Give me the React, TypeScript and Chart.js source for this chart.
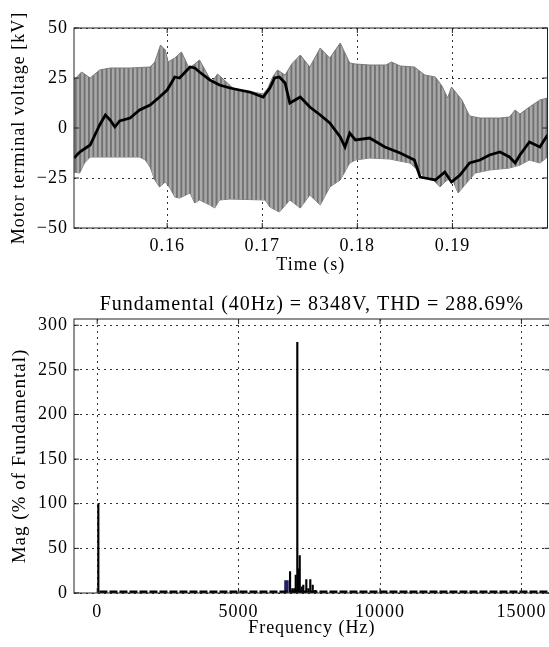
import React, { useEffect, useRef } from 'react';
import { Chart, registerables } from 'chart.js';

Chart.register(...registerables);

// ---------- Top plot: motor terminal voltage ----------
const timeTicks = [0.16, 0.17, 0.18, 0.19];
const voltTicks = [-50, -25, 0, 25, 50];

const upperT = [0.1502, 0.151, 0.1519, 0.1529, 0.154, 0.1561, 0.1582, 0.1587, 0.1593, 0.1598, 0.1601, 0.1608, 0.1615, 0.1623, 0.1629, 0.1634, 0.1641, 0.1647, 0.1653, 0.166, 0.1669, 0.1682, 0.169, 0.1701, 0.1706, 0.1711, 0.1716, 0.1724, 0.1731, 0.174, 0.175, 0.1761, 0.1771, 0.1782, 0.1792, 0.1798, 0.1813, 0.183, 0.1836, 0.1845, 0.186, 0.1871, 0.1882, 0.1889, 0.1895, 0.1899, 0.191, 0.1918, 0.1929, 0.195, 0.196, 0.1966, 0.1971, 0.1981, 0.1992, 0.2];
const upperKV = [24, 28, 25, 29, 30, 30, 30.5, 33, 41.5, 39, 33, 35, 38, 30, 32, 34, 28, 23, 27, 24, 20, 18.5, 18, 17, 20, 25.5, 29, 26.5, 32, 36.5, 30.5, 40, 35, 42.5, 32.5, 32, 31.5, 31.5, 33, 31, 30.5, 26.5, 25.5, 21, 15, 20.5, 14, 6, 5, 5, 5.5, 9, 7, 10.5, 14, 15];

const lowerT = [0.1502, 0.1508, 0.1513, 0.1519, 0.1529, 0.1571, 0.1577, 0.1582, 0.1587, 0.1592, 0.1598, 0.1603, 0.1608, 0.1613, 0.1624, 0.1629, 0.1634, 0.1645, 0.165, 0.1655, 0.1666, 0.1703, 0.1708, 0.1718, 0.1729, 0.174, 0.175, 0.1761, 0.1771, 0.1782, 0.1792, 0.1798, 0.1813, 0.1834, 0.1855, 0.1866, 0.1871, 0.1876, 0.1882, 0.1887, 0.1892, 0.1899, 0.1906, 0.1913, 0.1924, 0.1939, 0.196, 0.1971, 0.1981, 0.1992, 0.2];
const lowerKV = [-22, -22.5, -17.5, -14.5, -14.5, -14.5, -16, -19.5, -26, -29.5, -27, -30, -34.5, -35, -32.5, -37.5, -36, -38.5, -40, -36, -35.5, -36, -39.5, -42, -36, -40, -33.5, -38.5, -29.5, -26, -17.5, -16, -15, -15.5, -17.5, -22, -25, -24.5, -27, -29.5, -27, -24.5, -32.5, -28.5, -22.5, -21, -20, -18.5, -16, -17.5, -14.5];

const midT = [0.1502, 0.1508, 0.1519, 0.1524, 0.1529, 0.1535, 0.154, 0.1545, 0.155, 0.1561, 0.1571, 0.1582, 0.1592, 0.16, 0.1608, 0.1613, 0.1624, 0.1629, 0.1634, 0.1645, 0.1655, 0.1666, 0.1676, 0.1687, 0.1695, 0.1701, 0.1708, 0.1713, 0.1718, 0.1724, 0.1729, 0.174, 0.175, 0.1761, 0.1771, 0.1782, 0.1787, 0.1792, 0.1798, 0.1813, 0.1829, 0.1845, 0.186, 0.1866, 0.1871, 0.1882, 0.1892, 0.1899, 0.1908, 0.1918, 0.1929, 0.1939, 0.195, 0.196, 0.1966, 0.1971, 0.1981, 0.1992, 0.2];
const midKV = [-15, -12, -8.5, -3.5, 1.5, 6.5, 4, 0.5, 3.5, 5, 9, 11.5, 15.5, 19, 25.5, 25, 30.5, 30, 28, 24, 21.5, 20, 19, 18, 16.5, 15.5, 20, 25, 25.5, 22.5, 12.5, 15.5, 10.5, 6.5, 2.5, -4.5, -9.5, -2.5, -6, -5, -9.5, -12.5, -16, -24.5, -25, -26, -22, -27, -23.5, -17.5, -16, -13.5, -12, -14.5, -17.5, -13.5, -7, -9.5, -3.5];

// ---------- Bottom plot: FFT spectrum ----------
const freqTicks = [0, 5000, 10000, 15000];
const magTicks = [0, 50, 100, 150, 200, 250, 300];
const fundamentalHz = [40];
const fundamentalMag = [100];
const harmonicHz = [6820, 6900, 6970, 7020, 7076, 7136, 7161, 7231, 7288, 7394, 7465, 7535, 7620, 7712];
const harmonicMag = [24, 5, 5, 20, 281, 27, 42, 7, 9, 15, 5, 15, 9, 3];
const navyHz = [6660, 6725];
const navyMag = [14, 14];
const floorHz = [80, 16000];
const floorMag = [1, 1];

const SERIF = '"Liberation Serif", "Times New Roman", serif';

const pts = (xs: number[], ys: number[]) => xs.map((x, i) => ({ x, y: ys[i] }));

const spacingPlugin = {
  id: 'letterSpacing',
  beforeDraw(chart: any) {
    try {
      chart.ctx.letterSpacing = '1px';
    } catch (e) {
      /* ignore */
    }
  },
};

const framePlugin = {
  id: 'frameTicks',
  afterDraw(chart: any) {
    const { ctx, chartArea: a, scales } = chart;
    ctx.save();
    ctx.strokeStyle = '#222';
    ctx.lineWidth = 1;
    ctx.setLineDash([]);
    ctx.strokeRect(a.left, a.top, a.right - a.left, a.bottom - a.top);
    const L = 5;
    ctx.beginPath();
    scales.x.ticks.forEach((t: any) => {
      const px = scales.x.getPixelForValue(t.value);
      ctx.moveTo(px, a.bottom);
      ctx.lineTo(px, a.bottom - L);
      ctx.moveTo(px, a.top);
      ctx.lineTo(px, a.top + L);
    });
    scales.y.ticks.forEach((t: any) => {
      const py = scales.y.getPixelForValue(t.value);
      ctx.moveTo(a.left, py);
      ctx.lineTo(a.left + L, py);
      ctx.moveTo(a.right, py);
      ctx.lineTo(a.right - L, py);
    });
    ctx.stroke();
    ctx.restore();
  },
};

const gridOpts = { drawTicks: false, color: '#333', lineWidth: 1 };
const borderOpts = { display: false, dash: [2, 4] };
const tickFont = { family: SERIF, size: 18 };
const titleFont = { family: SERIF, size: 18 };

export default function App() {
  const topRef = useRef<HTMLCanvasElement>(null);
  const botRef = useRef<HTMLCanvasElement>(null);

  useEffect(() => {
    Chart.defaults.font.family = SERIF;
    Chart.defaults.color = '#000';

    const pc = document.createElement('canvas');
    pc.width = 22;
    pc.height = 8;
    const pctx = pc.getContext('2d')!;
    pctx.fillStyle = '#a9a9a9';
    pctx.fillRect(0, 0, 22, 8);
    pctx.fillStyle = '#727272';
    for (let i = 0; i < 5; i++) pctx.fillRect(i * 4.4, 0, 1.9, 8);
    const pattern = topRef.current!.getContext('2d')!.createPattern(pc, 'repeat');

    const top = new Chart(topRef.current!, {
      type: 'line',
      data: {
        datasets: [
          {
            data: pts(upperT, upperKV),
            borderColor: '#7a7a7a',
            borderWidth: 1,
            pointRadius: 0,
            fill: '+1',
            backgroundColor: pattern as any,
            tension: 0,
            order: 2,
          },
          {
            data: pts(lowerT, lowerKV),
            borderColor: '#7a7a7a',
            borderWidth: 1,
            pointRadius: 0,
            fill: false,
            tension: 0,
            order: 3,
          },
          {
            data: pts(midT, midKV),
            borderColor: '#000',
            borderWidth: 2.8,
            pointRadius: 0,
            fill: false,
            tension: 0,
            order: 0,
          },
        ],
      },
      options: {
        animation: false,
        responsive: false,
        devicePixelRatio: 1,
        layout: { padding: { top: 28, right: 1.5, left: 0, bottom: 0 } },
        plugins: { legend: { display: false }, tooltip: { enabled: false } },
        scales: {
          x: {
            type: 'linear',
            min: 0.1502,
            max: 0.2,
            afterBuildTicks: (s: any) => {
              s.ticks = timeTicks.map((v) => ({ value: v }));
            },
            afterFit: (s: any) => {
              s.height = 54;
            },
            ticks: {
              padding: 7,
              color: '#000',
              font: tickFont,
              maxRotation: 0,
              autoSkip: false,
              callback: (v: any) => Number(v).toFixed(2),
            },
            grid: gridOpts,
            border: borderOpts,
            title: {
              display: true,
              text: 'Time (s)',
              color: '#000',
              font: titleFont,
              padding: { top: 0, bottom: 6 },
            },
          },
          y: {
            type: 'linear',
            min: -50,
            max: 50,
            afterBuildTicks: (s: any) => {
              s.ticks = voltTicks.map((v) => ({ value: v }));
            },
            afterFit: (s: any) => {
              s.width = 74;
            },
            ticks: {
              padding: 6,
              color: '#000',
              font: tickFont,
              callback: (v: any) => String(v).replace('-', '\u2212'),
            },
            grid: gridOpts,
            border: borderOpts,
            title: {
              display: true,
              text: 'Motor terminal voltage [kV]',
              color: '#000',
              font: titleFont,
              padding: { top: 8, bottom: 0 },
            },
          },
        },
      } as any,
      plugins: [spacingPlugin, framePlugin],
    });

    const bot = new Chart(botRef.current!, {
      type: 'bar',
      data: {
        datasets: [
          {
            type: 'line',
            data: pts(floorHz, floorMag),
            borderColor: '#000',
            borderWidth: 3,
            borderDash: [8, 2],
            pointRadius: 0,
            fill: false,
          } as any,
          {
            data: pts(fundamentalHz, fundamentalMag),
            backgroundColor: '#000',
            barThickness: 1.5,
            grouped: false,
          },
          {
            data: pts(harmonicHz, harmonicMag),
            backgroundColor: '#000',
            barThickness: 1.5,
            grouped: false,
          },
          {
            data: pts(navyHz, navyMag),
            backgroundColor: '#20205e',
            barThickness: 2,
            grouped: false,
          },
        ],
      },
      options: {
        animation: false,
        responsive: false,
        devicePixelRatio: 1,
        layout: { padding: { top: 0, right: 10.3, left: 0, bottom: 0 } },
        plugins: {
          legend: { display: false },
          tooltip: { enabled: false },
          title: {
            display: true,
            text: 'Fundamental (40Hz) = 8348V, THD = 288.69%',
            color: '#000',
            font: { family: SERIF, size: 20, weight: 'normal' },
            padding: { top: 11, bottom: 2 },
            fullSize: false,
          },
        },
        scales: {
          x: {
            type: 'linear',
            min: -820,
            max: 16000,
            offset: false,
            afterBuildTicks: (s: any) => {
              s.ticks = freqTicks.map((v) => ({ value: v }));
            },
            afterFit: (s: any) => {
              s.height = 54;
            },
            ticks: {
              padding: 8,
              color: '#000',
              font: tickFont,
              maxRotation: 0,
              autoSkip: false,
              callback: (v: any) => String(v),
            },
            grid: { ...gridOpts, offset: false },
            border: borderOpts,
            title: {
              display: true,
              text: 'Frequency (Hz)',
              color: '#000',
              font: titleFont,
              padding: { top: 0, bottom: 8 },
            },
          },
          y: {
            type: 'linear',
            min: 0,
            max: 307,
            afterBuildTicks: (s: any) => {
              s.ticks = magTicks.map((v) => ({ value: v }));
            },
            afterFit: (s: any) => {
              s.width = 74;
            },
            ticks: {
              padding: 6,
              color: '#000',
              font: tickFont,
              callback: (v: any) => String(v),
            },
            grid: gridOpts,
            border: borderOpts,
            title: {
              display: true,
              text: 'Mag (% of Fundamental)',
              color: '#000',
              font: { family: SERIF, size: 19 },
              padding: { top: 9, bottom: 0 },
            },
          },
        },
      } as any,
      plugins: [spacingPlugin, framePlugin],
    });

    return () => {
      top.destroy();
      bot.destroy();
    };
  }, []);

  return (
    <div
      style={{
        position: 'fixed',
        left: 0,
        top: 0,
        width: 549,
        height: 647,
        overflow: 'hidden',
        background: '#fff',
      }}
    >
      <canvas
        ref={topRef}
        width={549}
        height={282}
        style={{ position: 'absolute', left: 0, top: 0, width: 549, height: 282 }}
      />
      <canvas
        ref={botRef}
        width={560}
        height={365}
        style={{ position: 'absolute', left: 0, top: 282, width: 560, height: 365 }}
      />
    </div>
  );
}
